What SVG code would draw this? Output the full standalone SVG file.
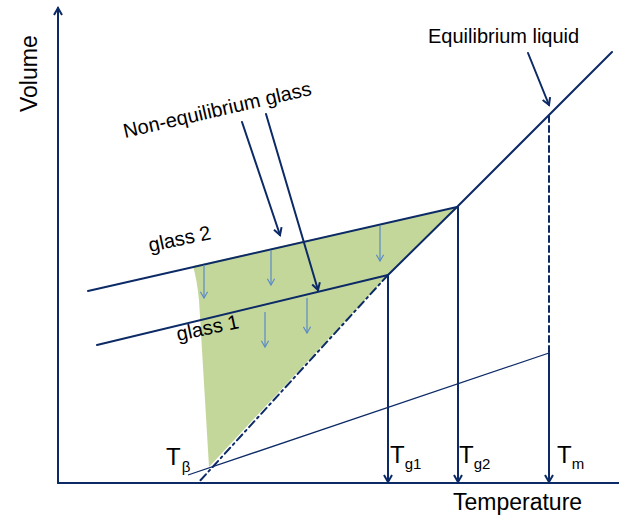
<svg xmlns="http://www.w3.org/2000/svg" width="619" height="515" viewBox="0 0 619 515">
<style>
.ln{fill:none;stroke:#0c2a66;stroke-width:2;stroke-linecap:round}
.thin{fill:none;stroke:#0c2a66;stroke-width:1.3}
.blu{fill:none;stroke:#5b8ac6;stroke-width:1.2}
text{font-family:"Liberation Sans",Arial,sans-serif;fill:#000}
.big{font-size:23px}
.tt{font-size:24px}
.mid{font-size:20px}
.sub{font-size:15px}
</style>
<defs>
<marker id="ah" viewBox="0 0 10 10" refX="8" refY="5" markerWidth="10" markerHeight="10" markerUnits="userSpaceOnUse" orient="auto">
<path d="M1,1 L8,5 L1,9" fill="none" stroke="#0c2a66" stroke-width="2"/>
</marker>
<marker id="bh" viewBox="0 0 10 10" refX="8" refY="5" markerWidth="9" markerHeight="9" markerUnits="userSpaceOnUse" orient="auto">
<path d="M1,1 L8,5 L1,9" fill="none" stroke="#5b8ac6" stroke-width="1.3"/>
</marker>
</defs>
<rect width="619" height="515" fill="#fff"/>
<g id="region">
<path d="M193,266 Q197,280 199,300 L209,467 L388,275 L457,207 Z" fill="#c4d79b"/>
</g>
<g id="axes">
<line class="ln" x1="58" y1="483" x2="58" y2="8" marker-end="url(#ah)"/>
<line class="ln" x1="58" y1="483" x2="619" y2="483"/>
</g>
<g id="curves">
<polyline class="ln" points="612,52 457,207 388,275"/>
<line class="ln" x1="388" y1="275" x2="198" y2="483" stroke-dasharray="8,4,2,4"/>
<line class="ln" x1="88" y1="291" x2="457" y2="207"/>
<line class="ln" x1="97" y1="345" x2="388" y2="275"/>
<line class="thin" x1="188" y1="475" x2="549" y2="353"/>
</g>
<g id="connectors">
<line class="ln" x1="388" y1="275" x2="388" y2="482" marker-end="url(#ah)"/>
<line class="ln" x1="458" y1="207" x2="458" y2="482" marker-end="url(#ah)"/>
<line class="ln" x1="549" y1="116" x2="549" y2="353" stroke-dasharray="6,4" stroke-linecap="butt"/>
<line class="ln" x1="549" y1="353" x2="549" y2="482" marker-end="url(#ah)"/>
<line class="ln" x1="528" y1="53" x2="549" y2="105" marker-end="url(#ah)"/>
<line class="ln" x1="242" y1="122" x2="280" y2="235" marker-end="url(#ah)"/>
<line class="ln" x1="266" y1="114" x2="318" y2="290" marker-end="url(#ah)"/>
<line class="blu" x1="204" y1="265" x2="204" y2="298" marker-end="url(#bh)"/>
<line class="blu" x1="271" y1="250" x2="271" y2="285" marker-end="url(#bh)"/>
<line class="blu" x1="380" y1="226" x2="380" y2="261" marker-end="url(#bh)"/>
<line class="blu" x1="265" y1="312" x2="265" y2="347" marker-end="url(#bh)"/>
<line class="blu" x1="307" y1="298" x2="307" y2="333" marker-end="url(#bh)"/>
</g>
<g id="labels">
<text class="big" transform="translate(37,112) rotate(-90)">Volume</text>
<text class="big" x="453" y="510">Temperature</text>
<text class="mid" x="428" y="43">Equilibrium liquid</text>
<text class="mid" transform="translate(125,138) rotate(-13)">Non-equilibrium glass</text>
<text class="mid" transform="translate(150,252) rotate(-12)">glass 2</text>
<text class="mid" transform="translate(178,341) rotate(-12)">glass 1</text>
<text class="tt" x="166" y="465">T<tspan class="sub" dx="1" dy="7">β</tspan></text>
<text class="tt" x="390" y="463">T<tspan class="sub" dy="6">g1</tspan></text>
<text class="tt" x="459" y="463">T<tspan class="sub" dy="6">g2</tspan></text>
<text class="tt" x="557" y="463">T<tspan class="sub" dy="6">m</tspan></text>
</g>
</svg>
